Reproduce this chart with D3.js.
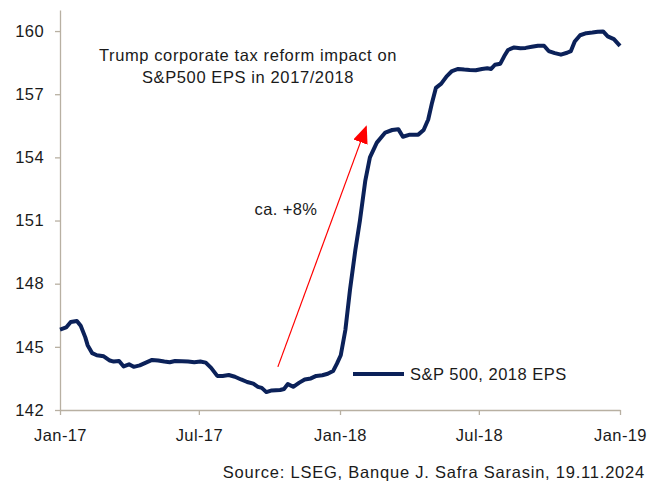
<!DOCTYPE html>
<html>
<head>
<meta charset="utf-8">
<script src="https://cdn.jsdelivr.net/npm/d3@7"></script>
<style>
  html, body { margin: 0; padding: 0; background: #fff; }
  svg { display: block; }
  text { font-family: "Liberation Sans", Arial, sans-serif; fill: #1a1a1a; }
</style>
</head>
<body>
<svg id="chart" width="648" height="482"></svg>
<script>
// Consensus 2018 EPS estimate for the S&P 500, by observation date
const dates = [
  "2017-01-01","2017-01-09","2017-01-15","2017-01-23","2017-01-28","2017-02-03","2017-02-06","2017-02-12",
  "2017-02-18","2017-02-27","2017-03-07","2017-03-12","2017-03-19","2017-03-25","2017-04-01","2017-04-07",
  "2017-04-15","2017-04-23","2017-05-01","2017-05-09","2017-05-17","2017-05-24","2017-05-31","2017-06-09",
  "2017-06-17","2017-06-25","2017-07-03","2017-07-10","2017-07-17","2017-07-25","2017-08-01","2017-08-09",
  "2017-08-17","2017-08-25","2017-09-02","2017-09-10","2017-09-16","2017-09-21","2017-09-27","2017-10-04",
  "2017-10-15","2017-10-20","2017-10-25","2017-11-01","2017-11-09","2017-11-16","2017-11-24","2017-12-01",
  "2017-12-09","2017-12-16","2017-12-23","2017-12-28","2018-01-02","2018-01-08","2018-01-14","2018-01-21",
  "2018-01-27","2018-02-03","2018-02-09","2018-02-18","2018-03-01","2018-03-10","2018-03-18","2018-03-24",
  "2018-04-02","2018-04-13","2018-04-20","2018-04-26","2018-05-01","2018-05-06","2018-05-13","2018-05-20",
  "2018-05-27","2018-06-04","2018-06-12","2018-06-19","2018-06-27","2018-07-05","2018-07-12","2018-07-17",
  "2018-07-22","2018-07-29","2018-08-03","2018-08-08","2018-08-16","2018-08-24","2018-08-31","2018-09-08",
  "2018-09-16","2018-09-24","2018-09-30","2018-10-08","2018-10-16","2018-10-24","2018-10-29","2018-11-03",
  "2018-11-10","2018-11-18","2018-11-26","2018-12-03","2018-12-10","2018-12-16","2018-12-24","2019-01-01"
];
const eps2018 = [
  145.82,145.92,146.18,146.23,146.00,145.45,145.08,144.70,
  144.60,144.55,144.35,144.30,144.33,144.07,144.17,144.05,
  144.12,144.25,144.38,144.35,144.30,144.27,144.33,144.32,
  144.30,144.27,144.30,144.25,144.00,143.62,143.62,143.66,
  143.58,143.45,143.33,143.25,143.10,143.05,142.85,142.93,
  142.95,143.00,143.23,143.10,143.30,143.45,143.50,143.62,
  143.65,143.72,143.85,144.20,144.60,145.80,147.70,149.60,
  151.00,152.90,154.00,154.70,155.18,155.30,155.34,154.98,
  155.08,155.08,155.30,155.80,156.60,157.30,157.50,157.85,
  158.10,158.20,158.17,158.15,158.14,158.20,158.23,158.20,
  158.40,158.45,158.80,159.10,159.22,159.18,159.20,159.25,
  159.30,159.30,159.05,158.95,158.88,158.97,159.05,159.50,
  159.80,159.90,159.93,159.97,159.98,159.75,159.62,159.30
];
const yTicks = [142, 145, 148, 151, 154, 157, 160];
const xTickDates = ["2017-01-01","2017-07-01","2018-01-01","2018-07-01","2019-01-01"];
const seriesName = "S&P 500, 2018 EPS";
const noteLines = ["Trump corporate tax reform impact on", "S&P500 EPS in 2017/2018"];
const changeLabel = "ca. +8%";
const sourceText = "Source: LSEG, Banque J. Safra Sarasin, 19.11.2024";
// Arrow endpoints: [date, value]
const arrowFrom = ["2017-10-12", 144.05];
const arrowTo = ["2018-02-04", 155.45];

const parse = d3.timeParse("%Y-%m-%d");
const fmt = d3.timeFormat("%b-%y");
const data = dates.map((d, i) => ({ date: parse(d), value: eps2018[i] }));

const svg = d3.select("#chart");
const axisColor = "#b8b0a2";
const lineColor = "#0b2159";
const fontSize = 16.5;

const x = d3.scaleTime()
  .domain([parse("2017-01-01"), parse("2019-01-01")])
  .range([60, 620]);
const y = d3.scaleLinear()
  .domain([142, 161])
  .range([410, 10]);

function styleAxis(g) {
  g.select(".domain").attr("stroke", axisColor).attr("stroke-width", 1.3);
  g.selectAll(".tick line").attr("stroke", axisColor).attr("stroke-width", 1.3);
  g.selectAll(".tick text")
    .attr("font-size", fontSize)
    .attr("font-family", "Liberation Sans, Arial, sans-serif")
    .attr("fill", "#1a1a1a")
    .attr("letter-spacing", 0.4);
}

// Y axis
svg.append("g")
  .attr("transform", "translate(60,0)")
  .call(d3.axisLeft(y).tickValues(yTicks).tickSize(5).tickPadding(11).tickSizeOuter(0))
  .call(styleAxis);

// X axis
svg.append("g")
  .attr("transform", "translate(0,410)")
  .call(d3.axisBottom(x).tickValues(xTickDates.map(parse)).tickFormat(fmt).tickSize(5).tickPadding(14).tickSizeOuter(0))
  .call(styleAxis);

// EPS line
const line = d3.line().x(d => x(d.date)).y(d => y(d.value));
svg.append("path")
  .datum(data)
  .attr("fill", "none")
  .attr("stroke", lineColor)
  .attr("stroke-width", 4)
  .attr("stroke-linejoin", "round")
  .attr("d", line);

// Annotation text
const note = svg.append("text")
  .attr("x", 248).attr("y", 61)
  .attr("text-anchor", "middle")
  .attr("font-size", fontSize)
  .attr("letter-spacing", 0.6);
noteLines.forEach((t, i) => {
  note.append("tspan").attr("x", 248).attr("dy", i === 0 ? 0 : 22).text(t);
});

svg.append("text")
  .attr("x", 286).attr("y", 215)
  .attr("text-anchor", "middle")
  .attr("font-size", fontSize)
  .attr("letter-spacing", 0.4)
  .text(changeLabel);

// Red arrow
svg.append("defs").append("marker")
  .attr("id", "arrowhead")
  .attr("viewBox", "0 0 10 10")
  .attr("refX", 9).attr("refY", 5)
  .attr("markerWidth", 18).attr("markerHeight", 15)
  .attr("markerUnits", "userSpaceOnUse")
  .attr("orient", "auto")
  .attr("preserveAspectRatio", "none")
  .append("path")
  .attr("d", "M0,0 L10,5 L0,10 Z")
  .attr("fill", "#ff0000");

svg.append("line")
  .attr("x1", x(parse(arrowFrom[0]))).attr("y1", y(arrowFrom[1]))
  .attr("x2", x(parse(arrowTo[0]))).attr("y2", y(arrowTo[1]))
  .attr("stroke", "#ff0000")
  .attr("stroke-width", 1.2)
  .attr("marker-end", "url(#arrowhead)");

// Legend
const legend = svg.append("g").attr("transform", "translate(353,374)");
legend.append("line")
  .attr("x1", 0).attr("x2", 51).attr("y1", 0).attr("y2", 0)
  .attr("stroke", lineColor).attr("stroke-width", 4);
legend.append("text")
  .attr("x", 57).attr("y", 6)
  .attr("font-size", fontSize)
  .attr("letter-spacing", 0.5)
  .text(seriesName);

// Source
svg.append("text")
  .attr("x", 645).attr("y", 478)
  .attr("text-anchor", "end")
  .attr("font-size", fontSize)
  .attr("letter-spacing", 0.78)
  .text(sourceText);
</script>
</body>
</html>
